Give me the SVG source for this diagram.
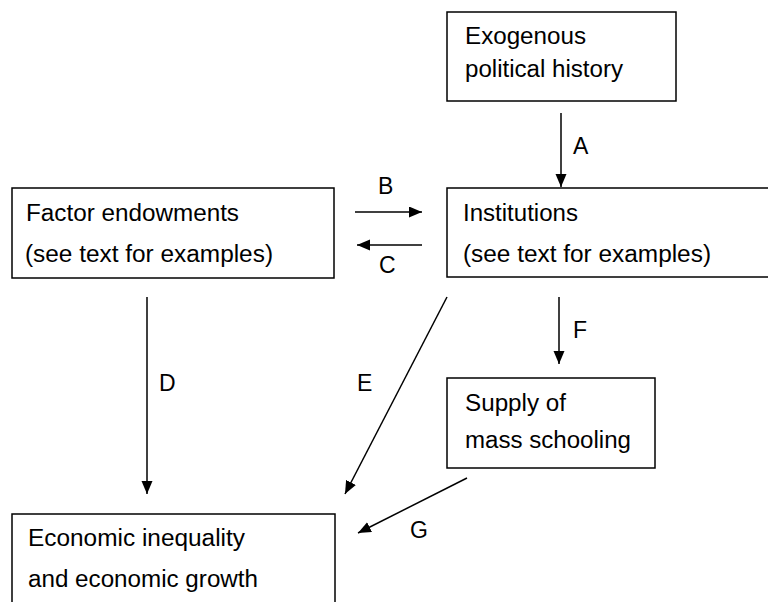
<svg xmlns="http://www.w3.org/2000/svg" width="768" height="602" viewBox="0 0 768 602">
<style>
.box{fill:#fff;stroke:#000;stroke-width:1.5}
.t{font-family:"Liberation Sans",Arial,sans-serif;font-size:23px;fill:#000}
.c{stroke:#000;stroke-width:1.5;fill:none;marker-end:url(#ah)}
</style>
<defs>
<marker id="ah" markerUnits="userSpaceOnUse" markerWidth="14" markerHeight="12" refX="13" refY="5.5" orient="auto">
<path d="M0,0 L13,5.5 L0,11 z" fill="#000"/>
</marker>
</defs>
<rect width="768" height="602" fill="#fff"/>
<g id="exogenous">
<rect class="box" x="447" y="12" width="229" height="89"/>
<text class="t" x="465" y="44" textLength="121" lengthAdjust="spacingAndGlyphs">Exogenous</text>
<text class="t" x="465" y="77" textLength="158" lengthAdjust="spacingAndGlyphs">political history</text>
</g>
<g id="factor">
<rect class="box" x="12" y="188" width="322" height="90"/>
<text class="t" x="26" y="221" textLength="213" lengthAdjust="spacingAndGlyphs">Factor endowments</text>
<text class="t" x="25" y="262" textLength="248" lengthAdjust="spacingAndGlyphs">(see text for examples)</text>
</g>
<g id="institutions">
<rect class="box" x="447" y="188" width="330" height="89"/>
<text class="t" x="463" y="221" textLength="115" lengthAdjust="spacingAndGlyphs">Institutions</text>
<text class="t" x="463" y="262" textLength="248" lengthAdjust="spacingAndGlyphs">(see text for examples)</text>
</g>
<g id="schooling">
<rect class="box" x="447" y="378" width="208" height="90"/>
<text class="t" x="465" y="411" textLength="101" lengthAdjust="spacingAndGlyphs">Supply of</text>
<text class="t" x="465" y="448" textLength="166" lengthAdjust="spacingAndGlyphs">mass schooling</text>
</g>
<g id="outcome">
<rect class="box" x="12" y="514" width="323" height="100"/>
<text class="t" x="28" y="546" textLength="217" lengthAdjust="spacingAndGlyphs">Economic inequality</text>
<text class="t" x="28" y="587" textLength="230" lengthAdjust="spacingAndGlyphs">and economic growth</text>
</g>
<g id="connectors">
<line class="c" x1="561" y1="113" x2="561" y2="187"/>
<line class="c" x1="355" y1="212" x2="422" y2="212"/>
<line class="c" x1="422" y1="245" x2="357" y2="245"/>
<line class="c" x1="147" y1="297" x2="147" y2="494"/>
<line class="c" x1="447" y1="297" x2="345" y2="494"/>
<line class="c" x1="559" y1="297" x2="559" y2="364"/>
<line class="c" x1="467" y1="478" x2="358" y2="533"/>
<text class="t" x="573" y="154">A</text>
<text class="t" x="378" y="194">B</text>
<text class="t" x="379" y="273">C</text>
<text class="t" x="159" y="391">D</text>
<text class="t" x="357" y="391">E</text>
<text class="t" x="573" y="338">F</text>
<text class="t" x="410" y="538">G</text>
</g>
</svg>
